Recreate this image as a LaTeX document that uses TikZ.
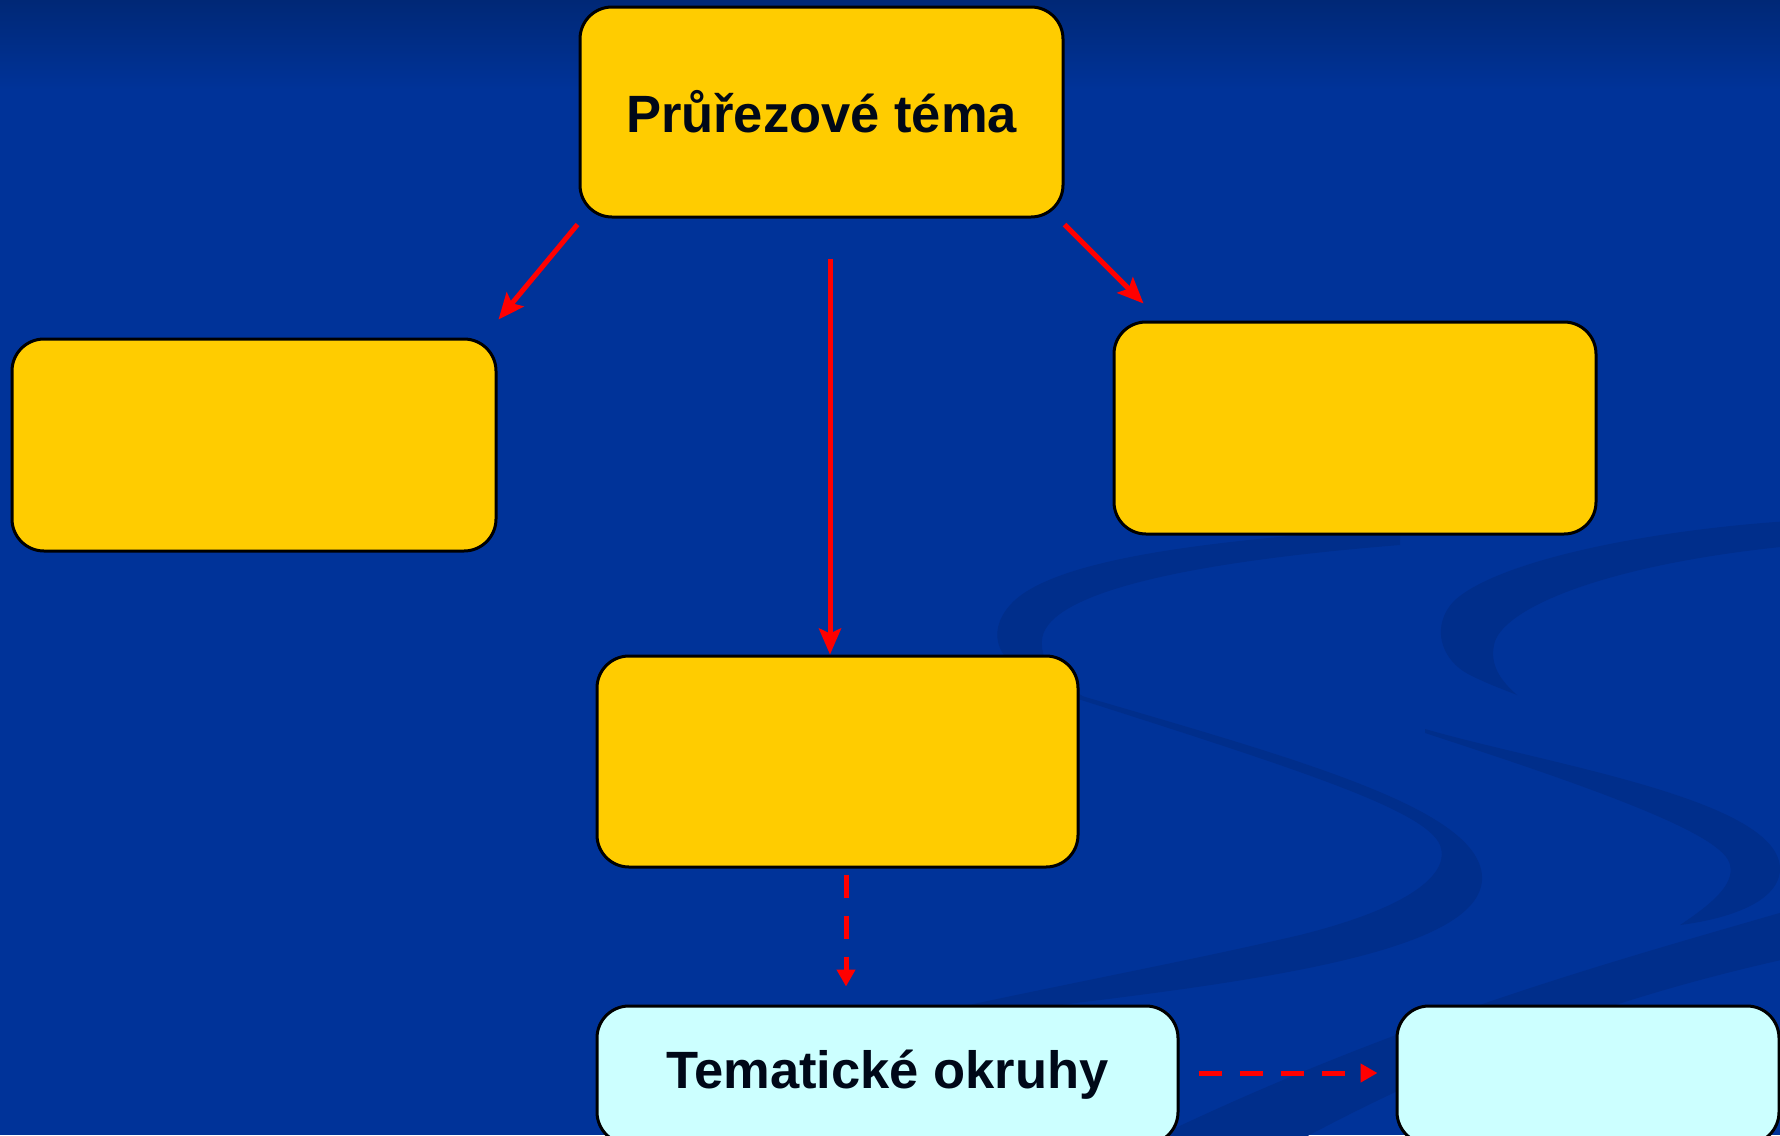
\documentclass[tikz,border=0pt]{standalone}
\usepackage{fontspec}
\setmainfont{Liberation Sans}
\usetikzlibrary{arrows.meta,calc}
\definecolor{bgblue}{RGB}{0,51,153}
\definecolor{topblue}{RGB}{0,40,118}
\definecolor{swirl}{RGB}{0,46,139}
\definecolor{boxyellow}{RGB}{255,204,0}
\definecolor{boxcyan}{RGB}{204,255,255}
\definecolor{txt}{RGB}{0,8,24}
\tikzset{
  box/.style={draw=black, line width=3pt, rounded corners=32pt, inner sep=0pt,
    font=\bfseries\fontsize{52.5}{60}\selectfont, text=txt},
  ybox/.style={box, fill=boxyellow},
  cbox/.style={box, fill=boxcyan},
  redarrow/.style={draw=red, line width=5pt, -{Stealth[length=26pt,width=22pt,inset=5pt]}},
  dasharrow/.style={draw=red, line width=5pt, dash pattern=on 23pt off 18pt,
    -{Triangle[length=17pt,width=18pt]}}
}
\begin{document}
\begin{tikzpicture}[x=1pt,y=-1pt]
\useasboundingbox (0,0) rectangle (1780,1135);
% background
\fill[bgblue] (0,0) rectangle (1780,1135);
\shade[top color=topblue, bottom color=bgblue] (0,0) rectangle (1780,90);
% swirls
\fill[swirl] (1400,528) .. controls (1200,540) and (1060,560) .. (1015,600)
  .. controls (985,628) and (995,660) .. (1030,675)
  .. controls (1050,685) and (1070,692) .. (1085,698)
  .. controls (1060,680) and (1040,665) .. (1042,640)
  .. controls (1045,600) and (1150,565) .. (1400,545) -- cycle;
\fill[swirl] (1075,694) .. controls (1300,760) and (1485,810) .. (1482,880)
  .. controls (1478,945) and (1300,975) .. (1100,1000)
  .. controls (1000,1012) and (900,1030) .. (820,1050)
  -- (820,1040) .. controls (950,1005) and (1150,970) .. (1300,935)
  .. controls (1420,905) and (1450,870) .. (1440,845)
  .. controls (1425,810) and (1300,770) .. (1075,698) -- cycle;
\fill[swirl] (1790,521) .. controls (1650,530) and (1500,560) .. (1455,600)
  .. controls (1430,625) and (1440,660) .. (1470,675)
  .. controls (1490,685) and (1505,690) .. (1517,695)
  .. controls (1500,680) and (1490,665) .. (1494,645)
  .. controls (1500,610) and (1600,565) .. (1790,546) -- cycle;
\fill[swirl] (1425,729) .. controls (1550,765) and (1782,800) .. (1780,870)
  .. controls (1778,905) and (1720,920) .. (1680,925)
  .. controls (1710,905) and (1735,885) .. (1730,865)
  .. controls (1725,835) and (1600,790) .. (1425,733) -- cycle;
\fill[swirl] (1790,910) .. controls (1600,965) and (1400,1020) .. (1150,1140)
  -- (1300,1140) .. controls (1450,1060) and (1600,1000) .. (1790,958) -- cycle;
% nodes
\node[ybox, minimum width=483pt, minimum height=210pt] (top) at (821.5,112) {Průřezové téma};
\node[ybox, minimum width=484pt, minimum height=212pt] (left) at (254,445) {};
\node[ybox, minimum width=482pt, minimum height=212pt] (right) at (1355,428) {};
\node[ybox, minimum width=481pt, minimum height=211pt] (mid) at (837.5,761.5) {};
\node[cbox, minimum width=581pt, minimum height=138pt] (okruhy) at (887.5,1075) {Tematické okruhy};
\node[cbox, minimum width=382pt, minimum height=138pt] (cright) at (1588,1075) {};
% connectors
\draw[redarrow] ($(top.south west)+(-1,6)$) -- ($(left.north east)+(1,-18)$);
\draw[redarrow] ($(top.south)+(8.5,40)$) -- ($(mid.north)+(-7.5,0)$);
\draw[redarrow] ($(top.south east)+(0,6)$) -- ($(right.north west)+(31,-17)$);
\draw[dasharrow] ($(mid.south)+(8.5,6)$) -- ($(okruhy.north)+(-41.5,-18)$);
\draw[dasharrow] ($(okruhy.east)+(19,-2)$) -- ($(cright.west)+(-18,-2)$);
\end{tikzpicture}
\end{document}
